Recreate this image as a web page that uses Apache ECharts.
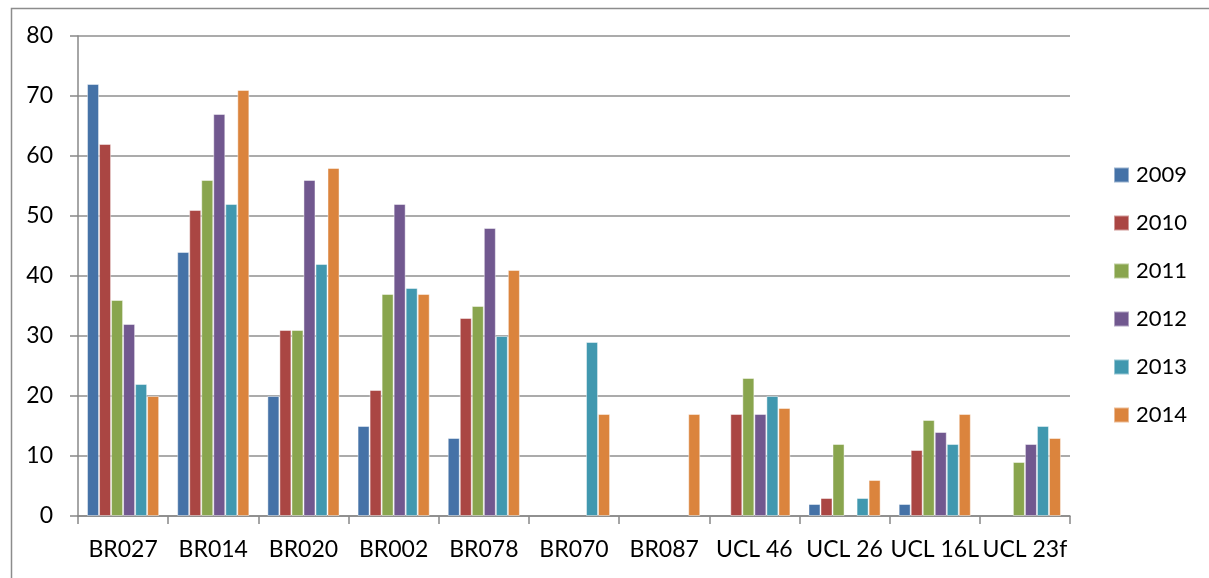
<!DOCTYPE html>
<html>
<head>
<meta charset="utf-8">
<script src="https://cdn.jsdelivr.net/npm/echarts@6/dist/echarts.min.js"></script>
<style>
  html, body { margin: 0; padding: 0; background: #fff; }
  #chart { width: 1209px; height: 578px; }
</style>
</head>
<body>
<div id="chart"></div>
<script>
// categories and yearly values (null = no bar)
var categories = ["BR027", "BR014", "BR020", "BR002", "BR078", "BR070", "BR087", "UCL 46", "UCL 26", "UCL 16L", "UCL 23f"];
var years = ["2009", "2010", "2011", "2012", "2013", "2014"];
var v2009 = [72, 44, 20, 15, 13, null, null, null, 2, 2, null];
var v2010 = [62, 51, 31, 21, 33, null, null, 17, 3, 11, null];
var v2011 = [36, 56, 31, 37, 35, null, null, 23, 12, 16, 9];
var v2012 = [32, 67, 56, 52, 48, null, null, 17, null, 14, 12];
var v2013 = [22, 52, 42, 38, 30, 29, null, 20, 3, 12, 15];
var v2014 = [20, 71, 58, 37, 41, 17, 17, 18, 6, 17, 13];
var yTicks = [0, 10, 20, 30, 40, 50, 60, 70, 80];

var colors = ["#4572A7", "#AA4643", "#89A54E", "#71588F", "#4198AF", "#DB843D"];
var values = [v2009, v2010, v2011, v2012, v2013, v2014];
var font = "Lato, 'Open Sans', sans-serif";

var chart = echarts.init(document.getElementById("chart"));

var series = years.map(function (y, i) {
  return {
    name: y,
    type: "bar",
    data: values[i],
    barGap: "0%",
    barCategoryGap: "20%",
    itemStyle: {
      color: colors[i],
      borderColor: "rgba(255,255,255,0.45)",
      borderWidth: 1
    }
  };
});

var option = {
  animation: false,
  color: colors,
  textStyle: { fontFamily: font },
  graphic: [
    {
      type: "rect",
      left: 9,
      top: 6,
      shape: { width: 1400, height: 800 },
      style: { fill: "none", stroke: "#8c8c8c", lineWidth: 1.5 },
      silent: true
    }
  ],
  legend: {
    orient: "vertical",
    left: 1113,
    top: 164,
    padding: 0,
    itemWidth: 15,
    itemHeight: 15,
    itemGap: 26,
    icon: "rect",
    textStyle: { fontSize: 22, lineHeight: 22, color: "#000", fontFamily: font, padding: [0, 0, 0, 2] },
    data: years
  },
  grid: {
    left: 78,
    right: 139,
    top: 36,
    bottom: 62
  },
  xAxis: {
    type: "category",
    data: categories,
    axisLine: { lineStyle: { color: "#888", width: 1.5 } },
    axisTick: { show: true, length: 8, lineStyle: { color: "#888", width: 1.5 } },
    axisLabel: { fontSize: 23, color: "#000", margin: 22, interval: 0, fontFamily: font }
  },
  yAxis: {
    type: "value",
    min: yTicks[0],
    max: yTicks[yTicks.length - 1],
    interval: 10,
    axisLine: { show: true, lineStyle: { color: "#888", width: 1.5 } },
    axisTick: { show: true, length: 8, lineStyle: { color: "#888", width: 1.5 } },
    splitLine: { lineStyle: { color: "#8f8f8f", width: 1.5 } },
    axisLabel: { fontSize: 23, color: "#000", margin: 25, fontFamily: font }
  },
  series: series
};

chart.setOption(option);
</script>
</body>
</html>
